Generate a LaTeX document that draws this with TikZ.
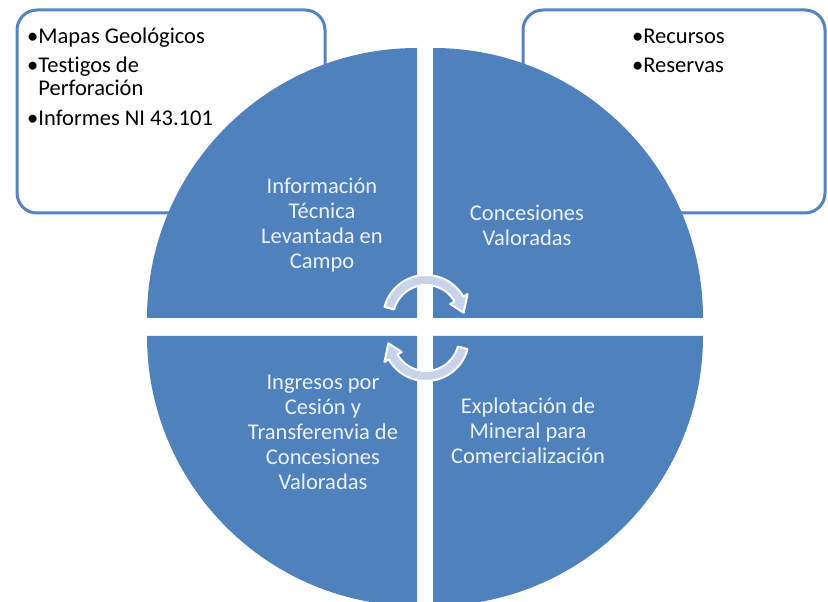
\documentclass[tikz,border=0pt]{standalone}
\usepackage{fontspec}
\setmainfont{Carlito}[Ligatures=CommonOff]
\definecolor{qblue}{RGB}{79,129,189}
\definecolor{bordblue}{RGB}{84,131,192}
\definecolor{arrfill}{RGB}{198,211,232}
\definecolor{qtext}{RGB}{236,241,248}
\begin{document}
\begin{tikzpicture}[x=1pt,y=1pt,
  quad/.style={fill=qblue},
  callout/.style={draw=bordblue, line width=3pt, fill=white, rounded corners=20pt},
  qlabel/.style={text=qtext, align=center, font=\fontsize{22.5}{25}\selectfont, inner sep=0pt},
  listtext/.style={text=black, font=\fontsize{22.5}{24}\selectfont, inner sep=0pt, anchor=base west},
  cyc/.style={fill=arrfill, draw=white, line width=2pt, line join=round}]
\useasboundingbox (0,0) rectangle (828,602);
\clip (0,0) rectangle (828,602);
% callout boxes
\path[callout] (17,389) rectangle (325,592);
\path[callout] (523,389) rectangle (825,592);
% quadrants
\fill[quad] (417,284) -- (417,554) arc[start angle=90,end angle=180,radius=270] -- cycle;
\fill[quad] (433,284) -- (433,554) arc[start angle=90,end angle=0,radius=270] -- cycle;
\fill[quad] (417,266) -- (147,266) arc[start angle=180,end angle=270,radius=270] -- cycle;
\fill[quad] (433,266) -- (703,266) arc[start angle=0,end angle=-90,radius=270] -- cycle;
% list texts
\node[listtext] (l1) at (27,558) {•Mapas Geológicos};
\node[listtext] (l2) at (27,529) {•Testigos de};
\node[listtext] (l3) at (27,506) {\phantom{•}Perforación};
\node[listtext] (l4) at (27,476) {•Informes NI 43.101};
\node[listtext] (r1) at (632,558) {•Recursos};
\node[listtext] (r2) at (632,529) {•Reservas};
% quadrant labels
\node[qlabel] (ul) at (322,377) {Información\\Técnica\\Levantada en\\Campo};
\node[qlabel] (ur) at (527,376.5) {Concesiones\\Valoradas};
\node[qlabel] (ll) at (323,170) {Ingresos por\\Cesión y\\Transferenvia de\\Concesiones\\Valoradas};
\node[qlabel] (lr) at (528,171) {Explotación de\\Mineral para\\Comercialización};
% cycle arrows
\begin{scope}[shift={(426,284)}]
\filldraw[cyc] (165:43) arc[start angle=165,end angle=30,radius=43]
  -- (30:48) -- (8:38) -- (30:28) -- (30:33)
  arc[start angle=30,end angle=165,radius=33] -- cycle;
\end{scope}
\begin{scope}[shift={(426,264)}]
\filldraw[cyc] (345:43) arc[start angle=345,end angle=210,radius=43]
  -- (210:48) -- (188:38) -- (210:28) -- (210:33)
  arc[start angle=210,end angle=345,radius=33] -- cycle;
\end{scope}
\end{tikzpicture}
\end{document}
